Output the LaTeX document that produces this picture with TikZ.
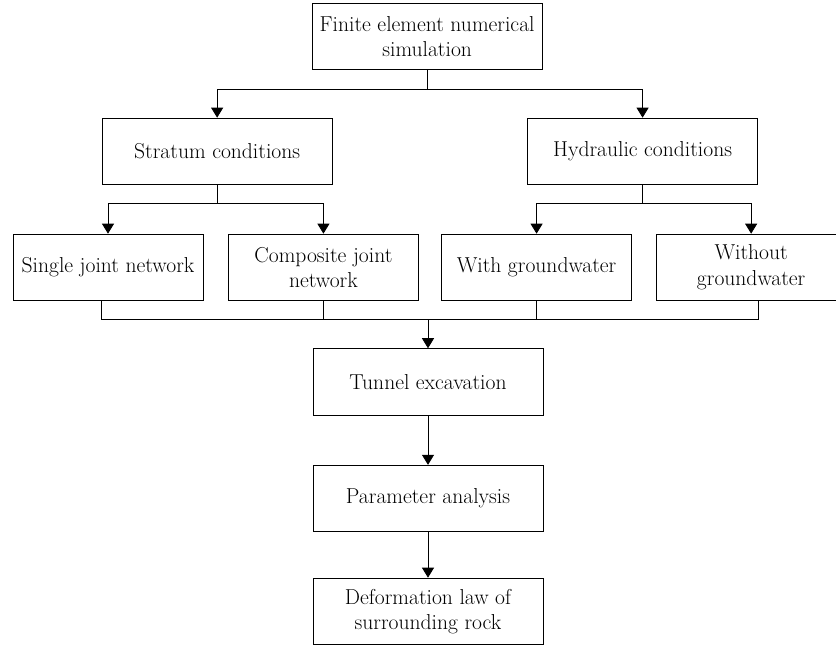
\documentclass[tikz,border=0pt]{standalone}
\usepackage{fontspec}
\usepackage{tikz}
\usetikzlibrary{arrows.meta, positioning, calc}

\begin{document}
\begin{tikzpicture}[
    box/.style={rectangle, draw, line width=0.9pt, minimum width=8.05cm, minimum height=2.33cm, align=center, font=\fontsize{21.5}{25.5}\selectfont},
    subbox/.style={box, minimum width=6.65cm},
    link/.style={line width=0.8pt},
    trans/.style={-{Triangle[length=10pt, width=12pt]}, line width=0.8pt}]

    \useasboundingbox (0, 0) rectangle (29.26, -22.61);

    % Steps
    \node[box] (fes) at (14.95, -1.28) {Finite element numerical\\simulation};
    \node[box] (stratum) at (7.60, -5.30) {Stratum conditions};
    \node[box] (hydraulic) at (22.49, -5.30) {Hydraulic conditions};
    \node[subbox] (single) at (3.78, -9.36) {Single joint network};
    \node[subbox] (composite) at (11.32, -9.36) {Composite joint\\network};
    \node[subbox] (withgw) at (18.78, -9.36) {With groundwater};
    \node[subbox] (withoutgw) at (26.29, -9.36) {Without\\groundwater};
    \node[box] (tunnel) at (14.98, -13.37) {Tunnel excavation};
    \node[box] (param) at (14.98, -17.45) {Parameter analysis};
    \node[box] (deform) at (14.98, -21.40) {Deformation law of\\surrounding rock};

    % Branches
    \draw[trans] (fes.south) -- ++(0, -0.67) -| (stratum);
    \draw[trans] (fes.south) -- ++(0, -0.67) -| (hydraulic);
    \draw[trans] (stratum.south) -- ++(0, -0.63) -| (single);
    \draw[trans] (stratum.south) -- ++(0, -0.63) -| (composite);
    \draw[trans] (hydraulic.south) -- ++(0, -0.63) -| (withgw);
    \draw[trans] (hydraulic.south) -- ++(0, -0.63) -| (withoutgw);

    % Merge
    \coordinate (bus) at ($(single.south -| tunnel.north) + (0, -0.63)$);
    \draw[link] ($(single.south) + (-0.245, 0)$) -- ++(0, -0.63) -| ($(withoutgw.south) + (0.245, 0)$);
    \draw[link] (composite.south) -- ++(0, -0.63);
    \draw[link] (withgw.south) -- ++(0, -0.63);
    \draw[trans] (bus) -- (tunnel);
    \draw[trans] (tunnel) -- (param);
    \draw[trans] (param) -- (deform);
\end{tikzpicture}
\end{document}
